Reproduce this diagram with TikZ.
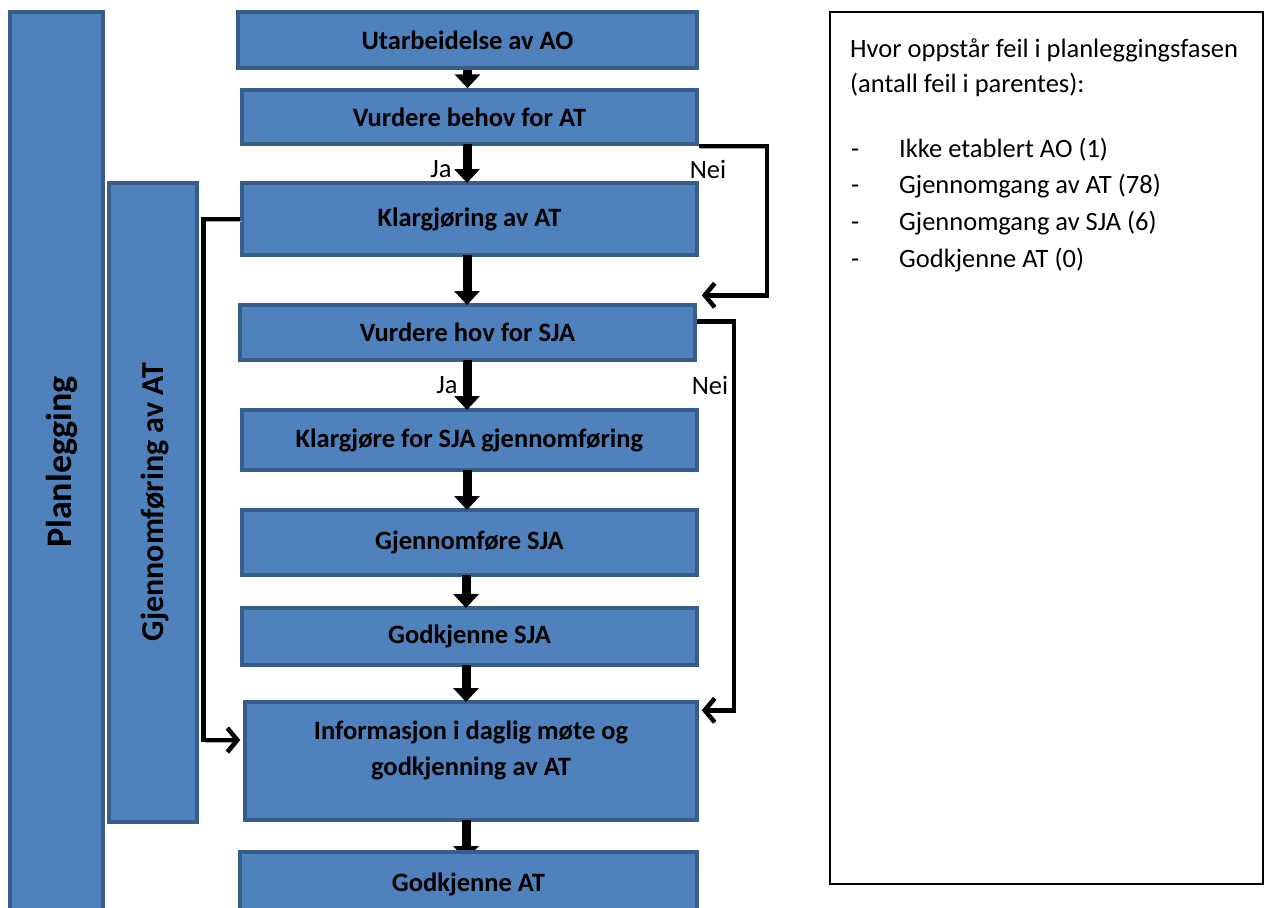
\documentclass[tikz,border=0pt]{standalone}
\usepackage{fontspec}
\setmainfont{Carlito}
\usetikzlibrary{arrows.meta,positioning,calc}

\definecolor{boxfill}{HTML}{4F81BD}
\definecolor{boxline}{HTML}{385D8A}

\tikzset{
  stepbox/.style={draw=boxline, fill=boxfill, line width=3.5pt, inner sep=0pt,
    align=center, font=\fontsize{26.5}{36}\selectfont\bfseries},
  phasebox/.style={draw=boxline, fill=boxfill, line width=3.5pt},
  phasetext/.style={rotate=90, inner sep=0pt, font=\bfseries},
  downarrow/.style={line width=9pt, -{Triangle[width=25pt,length=14pt]}},
  shadowed/.style={preaction={draw=black!35, transform canvas={shift={(1.5pt,-2pt)}}}},
  sideline/.style={line width=4.5pt, shadowed,
    -{Straight Barb[length=10pt,width=24pt,line width=4.5pt]}},
  answer/.style={font=\fontsize{26.5}{30}\selectfont},
  listtext/.style={font=\fontsize{26.5}{30}\selectfont, anchor=base west, inner sep=0pt},
}

\begin{document}
\begin{tikzpicture}[x=1pt,y=-1pt]
  \useasboundingbox (0,0) rectangle (1265,907);
  \clip (0,0) rectangle (1265,907);

  % phase bars on the left
  \node[phasebox, minimum width=93, minimum height=908] (plan) at (56.5,466) {};
  \node[phasetext, font=\fontsize{36}{40}\selectfont\bfseries] (plantext) at (62,462) {Planlegging};
  \node[phasebox, minimum width=88, minimum height=639] (gjat) at (153,502.5) {};
  \node[phasetext, font=\fontsize{32}{36}\selectfont\bfseries] (gjattext) at (155,502) {Gjennomføring av AT};

  % process steps
  \node[stepbox, minimum width=459, minimum height=56] (ao) at (467.5,40) {Utarbeidelse av AO};
  \node[stepbox, minimum width=455, minimum height=54] (vb) at (469.5,117) {Vurdere behov for AT};
  \node[stepbox, minimum width=455, minimum height=72] (ka) at (469.5,219) {Klargjøring av AT};
  \node[stepbox, minimum width=455, minimum height=55] (vh) at (467.5,332.5) {Vurdere hov for SJA};
  \node[stepbox, minimum width=455, minimum height=60] (ks) at (469.5,440) {Klargjøre for SJA gjennomføring};
  \node[stepbox, minimum width=455, minimum height=65] (gs) at (469.5,542.5) {Gjennomføre SJA};
  \node[stepbox, minimum width=455, minimum height=57] (gsja) at (469.5,636.5) {Godkjenne SJA};
  \node[stepbox, minimum width=452, minimum height=118] (info) at (471,761) {};
  \node[stepbox, draw=none, fill=none] (infotext) at ($(info)+(0,-11)$)
    {Informasjon i daglig møte og\\godkjenning av AT};

  % straight arrows
  \draw[downarrow] (ao.south) -- (ao.south |- vb.north);
  \draw[downarrow] (467,144) -- (467,183);
  \draw[downarrow] (467,255) -- (467,305);
  \draw[downarrow] (467,360) -- (467,410);
  \draw[downarrow] (467,470) -- (467,510);
  \draw[downarrow] (466,575) -- (466,608);
  \draw[downarrow] (466,665) -- (466,702);
  \draw[downarrow] (466,820) -- (466,860);

  \node[stepbox, minimum width=457, minimum height=64] (gat) at (468.5,884) {Godkjenne AT};

  % Ja / Nei labels
  \node[answer] (ja1) at (441,169) {Ja};
  \node[answer] (nei1) at (708,169) {Nei};
  \node[answer] (ja2) at (447,385) {Ja};
  \node[answer] (nei2) at (710,385) {Nei};

  % side connectors
  \coordinate (nei1end) at ($(vh.north east)+(5,-8)$);
  \coordinate (nei2end) at ($(info.north east)+(3,10)$);
  \coordinate (skipend) at ($(info.west)+(-3,-21)$);
  \draw[sideline] (vb.south east) -- ++(68,0) |- (nei1end);
  \draw[sideline] ($(vh.north east)+(0,18)$) -- ++(37,0) |- (nei2end);
  \draw[sideline] (ka.west) -- ++(-37,0) |- (skipend);

  % error summary
  \node[draw, line width=1.2pt, minimum width=433, minimum height=872] (errbox) at (1046.5,448) {};
  \node[listtext] (title1) at (850,57) {Hvor oppstår feil i planleggingsfasen};
  \node[listtext] (title2) at (850,92) {(antall feil i parentes):};
  \foreach \entry [count=\i] in {Ikke etablert AO (1), Gjennomgang av AT (78),
      Gjennomgang av SJA (6), Godkjenne AT (0)} {
    \node[listtext] (dash\i) at (851,157+36.7*\i-36.7) {-};
    \node[listtext] (entry\i) at (899,157+36.7*\i-36.7) {\entry};
  }
\end{tikzpicture}
\end{document}
